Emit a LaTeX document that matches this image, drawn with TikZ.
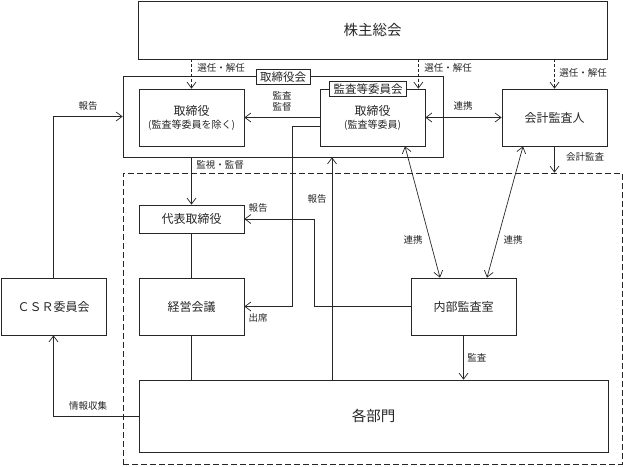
\documentclass[tikz,border=0pt]{standalone}
\usepackage{fontspec}
\setmainfont{Noto Sans CJK JP}
\usepackage{tikz}
\usetikzlibrary{arrows.meta, positioning, calc}

\begin{document}
\begin{tikzpicture}[x=1pt, y=-1pt, line width=0.7pt, color=black!85,
    box/.style={draw, minimum width=105pt, minimum height=57pt, inner sep=0pt, align=center, font=\fontsize{12}{14}\selectfont},
    tag/.style={draw, fill=white, inner xsep=4pt, inner ysep=2pt, font=\fontsize{11.5}{13}\selectfont},
    lbl/.style={inner sep=1pt, align=center, font=\fontsize{9.5}{11.5}\selectfont},
    senin/.style={dash pattern=on 3pt off 2pt},
    >={Straight Barb[length=6pt,width=9pt]}]
    \useasboundingbox (0,0) rectangle (623,466);

    % 株主総会
    \node[box, minimum width=469pt, minimum height=58pt, font=\fontsize{14.5}{16}\selectfont] (soukai) at (372.5,30) {株主総会};

    % 取締役会
    \node[draw, minimum width=320pt, minimum height=81pt] (torikai) at (283,116.5) {};
    \node[box] (tori1) at (191.5,117.5) {取締役\\[-1pt]{\fontsize{10}{12}\selectfont (監査等委員を除く)}};
    \node[box] (tori2) at (372.5,117.5) {取締役\\[-1pt]{\fontsize{10}{12}\selectfont (監査等委員)}};
    \node[tag] (torikaitag) at (283,77) {取締役会};
    \node[tag] (kansatag) at (368,89) {監査等委員会};
    \node[box] (kaikei) at (554.5,117.5) {会計監査人};

    % 業務執行
    \node[draw, dash pattern=on 6pt off 3pt, minimum width=499pt, minimum height=291pt] (shikkou) at (372.5,318.5) {};
    \node[box, minimum height=28pt] (daihyo) at (191.5,219) {代表取締役};
    \node[box] (keiei) at (191.5,306.5) {経営会議};
    \node[box] (naibu) at (463.5,306.5) {内部監査室};
    \node[box, minimum width=469pt, minimum height=72pt, font=\fontsize{14.5}{16}\selectfont] (bumon) at (373.5,416) {各部門};
    \node[box] (csr) at (53.5,306.5) {ＣＳＲ委員会};

    % 選任・解任
    \coordinate (s2) at ([xshift=-7pt]tori2.north east);
    \draw[senin, ->] (soukai.south -| tori1.north) -- (tori1.north);
    \draw[senin, ->] (soukai.south -| s2) -- (s2);
    \draw[senin, ->] (soukai.south -| kaikei.north) -- (kaikei.north);
    \node[lbl, anchor=west] (senin1) at (196,68) {選任・解任};
    \node[lbl, anchor=west] (senin2) at (423,68) {選任・解任};
    \node[lbl, anchor=west] (senin3) at (558,73) {選任・解任};

    % 取締役会まわり
    \draw[->] (tori2.west) -- (tori1.east);
    \node[lbl] (kantoku) at (282,101.5) {監査\\監督};
    \draw[<->] (tori2.east) -- (kaikei.west);
    \node[lbl] (renkei1) at (463,106) {連携};
    \draw[->] ([yshift=-8.5pt]tori2.west) -- ++(-27,0) |- (keiei.east);
    \node[lbl] (shusseki) at (258,318) {出席};
    \draw[->] (csr.north) |- (torikai.west);
    \node[lbl] (hokoku1) at (88,106) {報告};
    \draw[->] (torikai.south -| daihyo.north) -- (daihyo.north);
    \node[lbl, anchor=west] (kanshi) at (195,165) {監視・監督};

    % 執行側
    \draw (daihyo.south) -- (keiei.north);
    \draw (keiei.south) -- (bumon.north -| keiei.south);
    \coordinate (rep) at (332,0);
    \draw[->] (bumon.north -| rep) -- (torikai.south -| rep);
    \node[lbl] (hokoku2) at (317,199) {報告};
    \draw[->] (naibu.west) -- ++(-96,0) |- (daihyo.east);
    \node[lbl] (hokoku3) at (258,208) {報告};
    \draw[->] (bumon.west) -| (csr.south);
    \node[lbl] (joho) at (88,406) {情報収集};

    % 監査の連携
    \draw[<->] ([xshift=32.5pt]tori2.south) -- ([xshift=-23.5pt]naibu.north);
    \draw[<->] ([xshift=-31.5pt]kaikei.south) -- ([xshift=23.5pt]naibu.north);
    \node[lbl] (renkei2) at (413,240) {連携};
    \node[lbl] (renkei3) at (513,240) {連携};
    \draw[->] (kaikei.south) -- (shikkou.north -| kaikei.south);
    \node[lbl] (kaikeikansa) at (585,157) {会計監査};
    \draw[->] (naibu.south) -- (bumon.north -| naibu.south);
    \node[lbl, anchor=west] (kansa) at (466,358) {監査};
\end{tikzpicture}
\end{document}
